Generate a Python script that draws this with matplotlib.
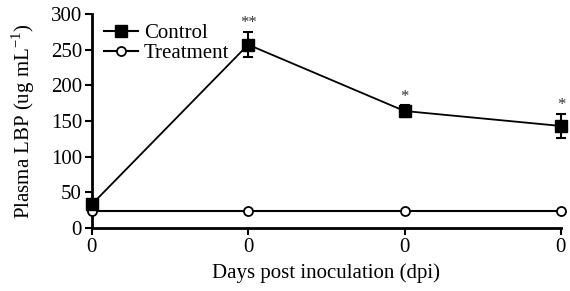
import numpy as np
import matplotlib
matplotlib.use("Agg")
import matplotlib.pyplot as plt
from matplotlib.lines import Line2D

plt.rcParams['font.family'] = ['Liberation Serif', 'DejaVu Serif']
plt.rcParams['mathtext.fontset'] = 'custom'
plt.rcParams['mathtext.rm'] = 'Liberation Serif'

###############################################
days = [0, 1, 2, 3]
tick_labels = ["0", "0", "0", "0"]
control = [33, 257, 164, 143]
control_err = [3, 18, 8, 17]
treatment = [24, 24, 24, 24]
stars = ["", "**", "*", "*"]
###############################################

fig = plt.figure(figsize=(5.7, 2.91), dpi=100)
ax = fig.add_axes([0.161, 0.2165, 0.823, 0.7355])

ax.errorbar(days, control, yerr=control_err, color="black", marker="s",
            markersize=8, linewidth=1.3, elinewidth=1.5, capsize=3.5,
            capthick=1.5, clip_on=False, zorder=3)
ax.plot(days, treatment, color="black", marker="o", markersize=6.5,
        markerfacecolor="white", markeredgewidth=1.3, linewidth=1.5,
        clip_on=False, zorder=3)

for x, y, e, s in zip(days, control, control_err, stars):
    if s:
        ax.text(x, y + e + 1, s, ha="center", va="bottom", fontsize=12,
                color="#333333")

ax.set_xlim(0, 3)
ax.set_ylim(0, 300)
ax.set_xticks(days)
ax.set_xticklabels(tick_labels)
ax.set_yticks(np.arange(0, 301, 50))

for side in ["top", "right"]:
    ax.spines[side].set_visible(False)
for side in ["left", "bottom"]:
    ax.spines[side].set_linewidth(2)
ax.tick_params(direction="out", length=5, width=1.5, labelsize=15, pad=2)

ax.set_xlabel("Days post inoculation (dpi)", fontsize=15, labelpad=5)
ax.set_ylabel(r"Plasma LBP (ug mL$^{\mathregular{-1}}$)", fontsize=15, labelpad=10)

handles = [
    Line2D([], [], color="black", marker="s", markersize=8, linewidth=1.5),
    Line2D([], [], color="black", marker="o", markersize=6.5,
           markerfacecolor="white", markeredgewidth=1.3, linewidth=1.5),
]
ax.legend(handles, ["Control", "Treatment"], loc="upper left",
          bbox_to_anchor=(0.0, 1.015), frameon=False, fontsize=15,
          handlelength=1.6, handletextpad=0.3, labelspacing=0.05,
          borderaxespad=0.2)

fig.savefig("out.png", dpi=100)
